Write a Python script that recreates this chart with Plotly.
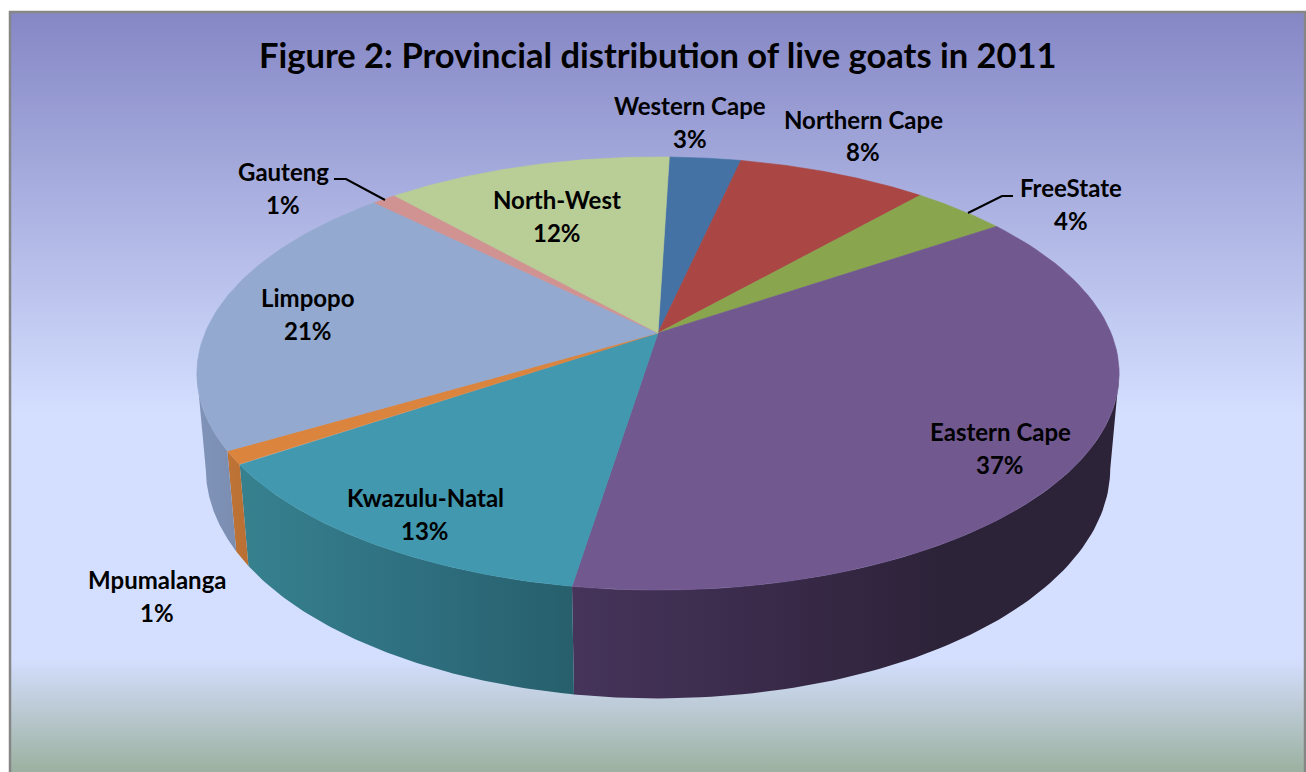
import numpy as np
import plotly.graph_objects as go

# Provincial shares of live goats, clockwise from twelve o'clock
provinces = ["Western Cape", "Northern Cape", "FreeState", "Eastern Cape", "Kwazulu-Natal",
             "Mpumalanga", "Limpopo", "Gauteng", "North-West"]
shares = [3, 8, 4, 37, 13, 1, 21, 1, 12]
top_colors = ["#4472A5", "#AA4643", "#89A54E", "#71588F", "#4198AF",
              "#DB843D", "#93A9CF", "#D19392", "#B9CD96"]
wall_stops = [
    ["#35597f", "#35597f"], ["#853735", "#853735"], ["#6b813d", "#6b813d"],
    ["#46345a", "#3a2b4b", "#2d2339", "#2d2339"], ["#37818f", "#2f7080", "#275f6c"],
    ["#bf7436", "#b96f33"], ["#8093b8", "#7b8eb2"], ["#a37372", "#a37372"], ["#90a075", "#90a075"],
]

# Label centres: name line and percentage line
label_x = [690, 863, 1071, 1000, 425, 157, 308, 283, 557]
name_y = [105.5, 119.5, 187.5, 431.5, 497.5, 579.5, 297.5, 171.5, 199.5]
pct_y = [138.5, 151.5, 220.5, 464.5, 530.5, 612.5, 330.5, 204.5, 232.5]

# Leader lines for the two thin slices that label outside the disc
leaders = [([334, 346, 385], [179, 179, 200]), ([1013, 1002, 968], [196, 196, 213])]

# Perspective camera for the disc
CX, CY = 658.0, 333.0
A, B, K = 453.0, 209.0, 0.187
WALL_DROP, WALL_W = 95.0, 0.019
FIRST_SLICE_DEG = 1.7
# The wall is seen between the two rim points where it turns away from the viewer
WALL_FROM = np.pi - np.arccos(K)
WALL_TO = np.pi + np.arccos(K)


def project(theta, radius=1.0, z=0.0):
    u = radius * np.sin(theta)
    v = radius * np.cos(theta)
    w = 1 + K * v + WALL_W * z
    return CX + A * u / w, CY + (-B * v + WALL_DROP * z) / w


fig = go.Figure()

# Panel background with its vertical gradient
fig.add_trace(go.Scatter(
    x=[10, 1305, 1305, 10, 10], y=[12, 12, 772, 772, 12], mode="lines", fill="toself",
    line=dict(width=0),
    fillgradient=dict(type="vertical", start=12, stop=772, colorscale=[
        [0.0, "#8587C5"], [0.53, "#D4DFFF"], [0.85, "#D4DFFF"], [0.995, "#9EB2A3"], [1.0, "#9EB2A3"]]),
    hoverinfo="skip", showlegend=False))
# Panel frame, open along the bottom edge
fig.add_trace(go.Scatter(
    x=[10, 10, 1305, 1305], y=[772, 12, 12, 772], mode="lines",
    line=dict(width=2.5, color="#868686"), hoverinfo="skip", showlegend=False))

edges = np.cumsum([0] + shares) / sum(shares) * 2 * np.pi + np.radians(FIRST_SLICE_DEG)

# Outer walls, limited to the part of each slice that faces the viewer
for i in range(len(shares)):
    start, stop = max(edges[i], WALL_FROM), min(edges[i + 1], WALL_TO)
    if stop <= start:
        continue
    t = np.linspace(start, stop, 80)
    x0, y0 = project(t)
    x1, y1 = project(t[::-1], z=1.0)
    stops = wall_stops[i]
    scale = [[j / (len(stops) - 1), c] for j, c in enumerate(stops)]
    fig.add_trace(go.Scatter(
        x=np.r_[x0, x1, x0[0]], y=np.r_[y0, y1, y0[0]], mode="lines", fill="toself",
        line=dict(width=0),
        fillgradient=dict(type="horizontal", colorscale=scale),
        hoverinfo="skip", showlegend=False))

# Top faces
for i in range(len(shares)):
    t = np.linspace(edges[i], edges[i + 1], 80)
    x0, y0 = project(t)
    fig.add_trace(go.Scatter(
        x=np.r_[CX, x0, CX], y=np.r_[CY, y0, CY], mode="lines", fill="toself",
        fillcolor=top_colors[i], line=dict(width=0.6, color=top_colors[i]),
        hoverinfo="skip", showlegend=False))

for lx, ly in leaders:
    fig.add_trace(go.Scatter(x=lx, y=ly, mode="lines", line=dict(color="black", width=2),
                             hoverinfo="skip", showlegend=False))

annotations = [dict(
    x=658, y=54.5, xref="x", yref="y", showarrow=False,
    text="<b>Figure 2: Provincial distribution of live goats in 2011</b>",
    font=dict(family="Lato", size=34.5, color="black"))]
for name, share, lx, ny, py in zip(provinces, shares, label_x, name_y, pct_y):
    for text, yy in ((name, ny), (f"{share}%", py)):
        annotations.append(dict(
            x=lx, y=yy, xref="x", yref="y", showarrow=False, text=f"<b>{text}</b>",
            font=dict(family="Lato", size=24, color="black")))

fig.update_layout(
    width=1306, height=772, margin=dict(l=0, r=0, t=0, b=0),
    paper_bgcolor="white", plot_bgcolor="white",
    xaxis=dict(range=[0, 1306], visible=False, fixedrange=True),
    yaxis=dict(range=[772, 0], visible=False, fixedrange=True),
    annotations=annotations, showlegend=False)

fig.write_html("out.html", config=dict(displayModeBar=False))
